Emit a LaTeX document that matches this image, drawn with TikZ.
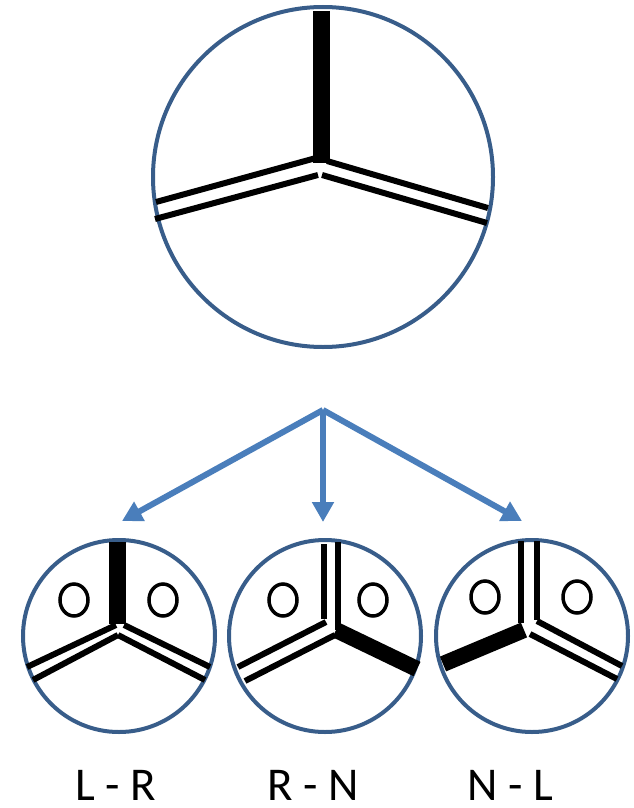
\documentclass[tikz,border=0pt]{standalone}
\usepackage{fontspec}
\setmainfont{Carlito}
\usetikzlibrary{arrows.meta}
\definecolor{ringblue}{RGB}{56,93,138}
\definecolor{arrowblue}{RGB}{74,126,187}

\begin{document}
\begin{tikzpicture}[x=1pt, y=-1pt,
        ring/.style={circle, draw=ringblue, line width=4pt, inner sep=0pt},
        bond/.style={line width=6pt},
        wedge/.style={line width=17pt},
        hole/.style={line width=3.5pt},
        split/.style={draw=arrowblue, line width=6pt, -{Triangle[width=21pt, length=20pt]}},
        caption/.style={font=\fontsize{47}{52}\selectfont, inner sep=0pt}]
            \useasboundingbox (0,0) rectangle (633,808);

            % big view
            \node[ring, minimum size=340pt] (big) at (323,177) {};
            \draw[wedge] (321,11) -- (321,163);
            \draw[bond] (316,158) -- (156,202);
            \draw[bond] (318,175) -- (155,219);
            \draw[bond] (327,161) -- (488,208);
            \draw[bond] (322,175) -- (487,223);

            % arrows
            \coordinate (fork) at (323,410);
            \coordinate (tipL) at (122,521);
            \coordinate (tipM) at (323,522);
            \coordinate (tipR) at (522,521);
            \draw[split] (fork) -- (tipL);
            \draw[split] (fork) -- (tipM);
            \draw[split] (fork) -- (tipR);

            % L - R
            \node[ring, minimum size=192pt] (lr) at (119,636) {};
            \draw[wedge] (117,542) -- (117,624);
            \draw[bond] (116,625) -- (27,667);
            \draw[bond] (118,635) -- (33,680);
            \draw[bond] (124,625) -- (210,667);
            \draw[bond] (118,635) -- (205,680);
            \draw[hole] (74,600) ellipse [x radius=14, y radius=16];
            \draw[hole] (163,600) ellipse [x radius=14, y radius=16];

            % R - N
            \node[ring, minimum size=192pt] (rn) at (325,636) {};
            \draw[bond] (324,544) -- (324,619);
            \draw[bond] (338,542) -- (338,630);
            \draw[bond] (326,622) -- (238,667);
            \draw[bond] (335,635) -- (245,681);
            \draw[line width=16pt] (336,630) -- (417,669);
            \draw[hole] (283,600) ellipse [x radius=14, y radius=16];
            \draw[hole] (373,600) ellipse [x radius=14, y radius=16];

            % N - L
            \node[ring, minimum size=192pt] (nl) at (532,636) {};
            \draw[bond] (521,541) -- (521,623);
            \draw[bond] (537,541) -- (537,620);
            \draw[line width=16pt] (524,630) -- (443,664);
            \draw[bond] (537,621) -- (622,666);
            \draw[bond] (530,634) -- (617,679);
            \draw[hole] (485,597) ellipse [x radius=14, y radius=16];
            \draw[hole] (577,597) ellipse [x radius=14, y radius=16];

            \node[caption] (lrtext) at (116,785) {L - R};
            \node[caption] (rntext) at (313,785) {R - N};
            \node[caption] (nltext) at (510,785) {N - L};

        \end{tikzpicture}
\end{document}
